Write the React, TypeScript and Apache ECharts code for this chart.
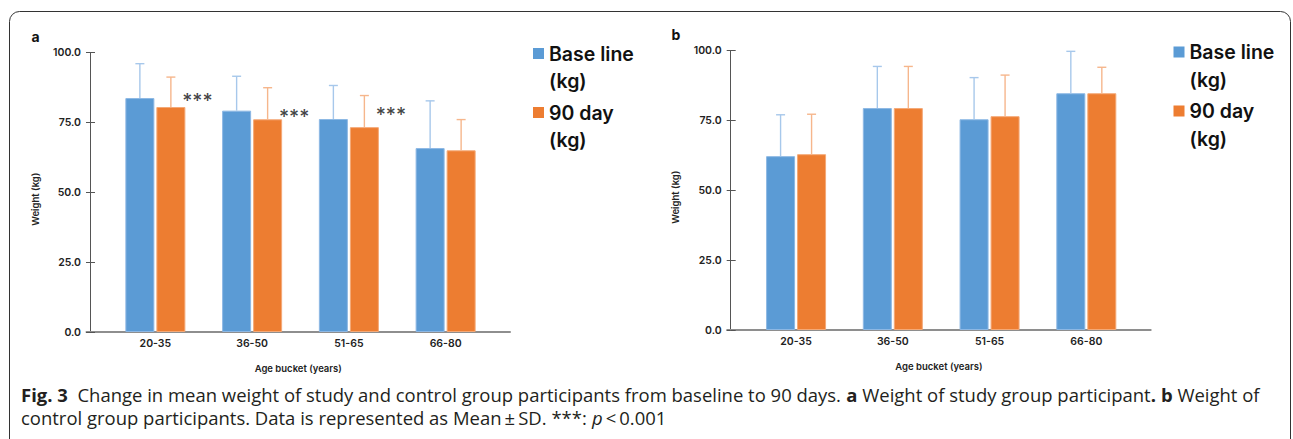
import React, { useEffect, useRef } from 'react';
import * as echarts from 'echarts';

// ---------- data ----------
const categories = ['20-35', '36-50', '51-65', '66-80'];
const seriesNames = ['Base line', '90 day'];

// Panel a: study group
const aBaseMean = [83.7, 79.2, 76.2, 65.8];
const aBaseSD = [12.3, 12.3, 12.0, 16.9];
const aDayMean = [80.5, 76.1, 73.3, 65.0];
const aDaySD = [10.7, 11.3, 11.3, 11.0];
const aStarLevel = [84.1, 78.7, 79.1];
const starText = '***';

// Panel b: control group
const bBaseMean = [62.2, 79.4, 75.4, 84.7];
const bBaseSD = [14.8, 14.9, 14.9, 15.0];
const bDayMean = [62.9, 79.4, 76.5, 84.7];
const bDaySD = [14.3, 14.9, 14.7, 9.3];

const yMin = 0;
const yMax = 100;
const yStep = 25;

// ---------- style ----------
const BLUE = '#5B9BD5';
const ORANGE = '#ED7D31';
const BLUE_EDGE = '#8DB8E4';
const ORANGE_EDGE = '#F4A977';
const BLUE_ERR = '#A7C8EB';
const ORANGE_ERR = '#F6B68C';
const FONT = 'Inter, "Noto Sans", sans-serif';
const CAP_FONT = '"Open Sans", "Noto Sans", sans-serif';
const BAR_W = 29;
const BAR_GAP = 2;

const LEGEND_ICON = 'path://M0,0L11,0L11,11L0,11Z M0,38.95L0.05,38.95L0.05,39L0,39Z';

function errorSeries(name: string, means: number[], sds: number[], side: number, color: string, xi: number, yi: number) {
  return {
    type: 'custom',
    name,
    xAxisIndex: xi,
    yAxisIndex: yi,
    z: 3,
    silent: true,
    data: means.map((m, i) => [i, m, sds[i]]),
    encode: { x: 0, y: 1 },
    renderItem: (_p: any, api: any) => {
      const i = api.value(0);
      const m = api.value(1);
      const sd = api.value(2);
      const p0 = api.coord([i, m]);
      const p1 = api.coord([i, m + sd]);
      const x = p0[0] + side * (BAR_W + BAR_GAP) / 2;
      return {
        type: 'group',
        children: [
          { type: 'line', shape: { x1: x, y1: p0[1], x2: x, y2: p1[1] }, style: { stroke: color, lineWidth: 1.4 } },
          { type: 'line', shape: { x1: x - 4.5, y1: p1[1], x2: x + 4.5, y2: p1[1] }, style: { stroke: color, lineWidth: 1.4 } },
        ],
      };
    },
  };
}

function measure(text: string, font: string) {
  const c = document.createElement('canvas').getContext('2d')!;
  c.font = font;
  return c.measureText(text).width;
}

export default function App() {
  const ref = useRef<HTMLDivElement>(null);
  useEffect(() => {
    if (!ref.current) return;
    const chart = echarts.init(ref.current, null, { renderer: 'svg' });

    const capSize = 17.5;
    const l1 = [
      ['b', 'Fig. 3'],
      ['r', '  Change in mean weight of study and control group participants from baseline to 90 days. '],
      ['b', 'a'],
      ['r', ' Weight of study group participant'],
      ['b', '. b'],
      ['r', ' Weight of'],
    ];
    const l2 = [
      ['r', 'control group participants. Data is represented as Mean\u2009\u00b1\u2009SD. ***: '],
      ['i', 'p'],
      ['r', '\u2009<\u20090.001'],
    ];
    const fontOf = (k: string) =>
      (k === 'b' ? 'bold ' : k === 'i' ? 'italic ' : '') + capSize + 'px ' + CAP_FONT;
    const w1 = l1.reduce((s, [k, t]) => s + measure(t, fontOf(k)), 0);
    const scale = 1239 / w1;
    const rich = {
      b: { fontFamily: CAP_FONT, fontSize: capSize, fontWeight: 'bold', fill: '#231f20' },
      r: { fontFamily: CAP_FONT, fontSize: capSize, fill: '#231f20' },
      i: { fontFamily: CAP_FONT, fontSize: capSize, fontStyle: 'italic', fill: '#231f20' },
    };
    const toRich = (parts: string[][]) => parts.map(([k, t]) => `{${k}|${t}}`).join('');

    const axisLabelStyle = { fontSize: 10.5, fontWeight: 600, color: '#222', fontFamily: FONT };
    const nameStyle = { fontSize: 9.5, fontWeight: 600, color: '#222', fontFamily: FONT };

    const frameX = (gi: number) => ({
      gridIndex: gi,
      type: 'value',
      min: 0,
      max: 1,
      axisLine: { show: true, lineStyle: { color: '#8e8e8e', width: 2 } },
      axisTick: { show: false },
      axisLabel: { show: false },
      splitLine: { show: false },
      name: 'Age bucket (years)',
      nameLocation: 'middle',
      nameGap: 31,
      nameTextStyle: nameStyle,
    });
    const barX = (gi: number) => ({
      gridIndex: gi,
      type: 'category',
      data: categories,
      axisLine: { show: false },
      axisTick: { show: false },
      axisLabel: { ...axisLabelStyle, margin: 6 },
    });
    const frameY = (gi: number) => ({
      gridIndex: gi,
      type: 'value',
      position: 'left',
      offset: -3.5,
      min: yMin,
      max: yMax,
      interval: yStep,
      axisLine: { show: true, lineStyle: { color: '#555', width: 1 } },
      axisTick: { show: true, length: 4, lineStyle: { color: '#555' } },
      axisLabel: { ...axisLabelStyle, margin: 9, formatter: (v: number) => v.toFixed(1) },
      splitLine: { show: false },
      name: 'Weight (kg)',
      nameLocation: 'middle',
      nameGap: 50,
      nameTextStyle: { ...nameStyle, padding: [0, 14, 0, 0] },
    });
    const innerTickY = (gi: number) => ({
      gridIndex: gi,
      type: 'value',
      position: 'left',
      offset: -3.5,
      min: yMin,
      max: yMax,
      interval: yStep,
      axisLine: { show: false },
      axisTick: { show: true, inside: true, length: 5, lineStyle: { color: '#555' } },
      axisLabel: { show: false },
      splitLine: { show: false },
    });
    const barY = (gi: number) => ({
      gridIndex: gi,
      type: 'value',
      min: yMin,
      max: yMax,
      show: false,
    });

    const barSeries = (name: string, data: number[], color: string, edge: string, xi: number, yi: number) => ({
      type: 'bar',
      name,
      xAxisIndex: xi,
      yAxisIndex: yi,
      data,
      barWidth: BAR_W,
      barGap: ((BAR_GAP / BAR_W) * 100).toFixed(1) + '%',
      itemStyle: { color, borderColor: edge, borderWidth: 1 },
    });

    const legendCommon = {
      data: seriesNames,
      orient: 'vertical',
      padding: 0,
      itemGap: 4,
      itemWidth: 11,
      itemHeight: 39,
      itemTextGap: 5,
      icon: LEGEND_ICON,
      selectedMode: false,
      itemStyle: { borderWidth: 0 },
      formatter: (n: string) => n + '\n(kg)',
      textStyle: { fontSize: 19.5, fontWeight: 600, lineHeight: 27.5, color: '#111', fontFamily: FONT },
    };

    chart.setOption({
      animation: false,
      backgroundColor: '#fff',
      grid: [
        { left: 86.5, top: 52.5, width: 423.5, height: 279.5 },
        { left: 107, top: 52.5, width: 387, height: 279.5 },
        { left: 727.2, top: 50.5, width: 423.5, height: 279.5 },
        { left: 747.7, top: 50.5, width: 387, height: 279.5 },
      ],
      xAxis: [frameX(0), barX(1), frameX(2), barX(3)],
      yAxis: [frameY(0), innerTickY(0), barY(1), frameY(2), innerTickY(2), barY(3)],
      legend: [
        { ...legendCommon, left: 533, top: 40 },
        { ...legendCommon, left: 1173.5, top: 38.5 },
      ],
      series: [
        barSeries(seriesNames[0], aBaseMean, BLUE, BLUE_EDGE, 1, 2),
        barSeries(seriesNames[1], aDayMean, ORANGE, ORANGE_EDGE, 1, 2),
        errorSeries('a-base-sd', aBaseMean, aBaseSD, -1, BLUE_ERR, 1, 2),
        errorSeries('a-day-sd', aDayMean, aDaySD, 1, ORANGE_ERR, 1, 2),
        {
          type: 'scatter',
          name: 'a-stars',
          xAxisIndex: 1,
          yAxisIndex: 2,
          data: aStarLevel.map((v, i) => [i, v]),
          symbolSize: 0.1,
          itemStyle: { color: 'rgba(0,0,0,0)' },
          silent: true,
          z: 4,
          label: {
            show: true,
            formatter: starText,
            position: 'inside',
            offset: [42, 4.5],
            align: 'center',
            verticalAlign: 'middle',
            fontSize: 19.5,
            fontWeight: 500,
            color: '#111',
            fontFamily: FONT,
          },
        },
        barSeries(seriesNames[0], bBaseMean, BLUE, BLUE_EDGE, 3, 5),
        barSeries(seriesNames[1], bDayMean, ORANGE, ORANGE_EDGE, 3, 5),
        errorSeries('b-base-sd', bBaseMean, bBaseSD, -1, BLUE_ERR, 3, 5),
        errorSeries('b-day-sd', bDayMean, bDaySD, 1, ORANGE_ERR, 3, 5),
      ],
      graphic: [
        {
          type: 'rect',
          silent: true,
          shape: { x: 9.5, y: 11.5, width: 1281, height: 445, r: 10 },
          style: { fill: 'none', stroke: '#333', lineWidth: 1 },
        },
        {
          type: 'text',
          x: 31.5,
          y: 36,
          style: { text: 'a', font: 'bold 14px ' + FONT, fill: '#111', verticalAlign: 'middle' },
        },
        {
          type: 'text',
          x: 671.5,
          y: 34.3,
          style: { text: 'b', font: 'bold 14px ' + FONT, fill: '#111', verticalAlign: 'middle' },
        },
        {
          type: 'text',
          x: 21,
          y: 394.8,
          scaleX: scale,
          style: { text: toRich(l1), rich, verticalAlign: 'middle', align: 'left' },
        },
        {
          type: 'text',
          x: 21,
          y: 418.4,
          scaleX: scale,
          style: { text: toRich(l2), rich, verticalAlign: 'middle', align: 'left' },
        },
      ],
    });
    return () => chart.dispose();
  }, []);
  return <div ref={ref} style={{ position: 'absolute', left: 0, top: 0, width: 1293, height: 439 }} />;
}
